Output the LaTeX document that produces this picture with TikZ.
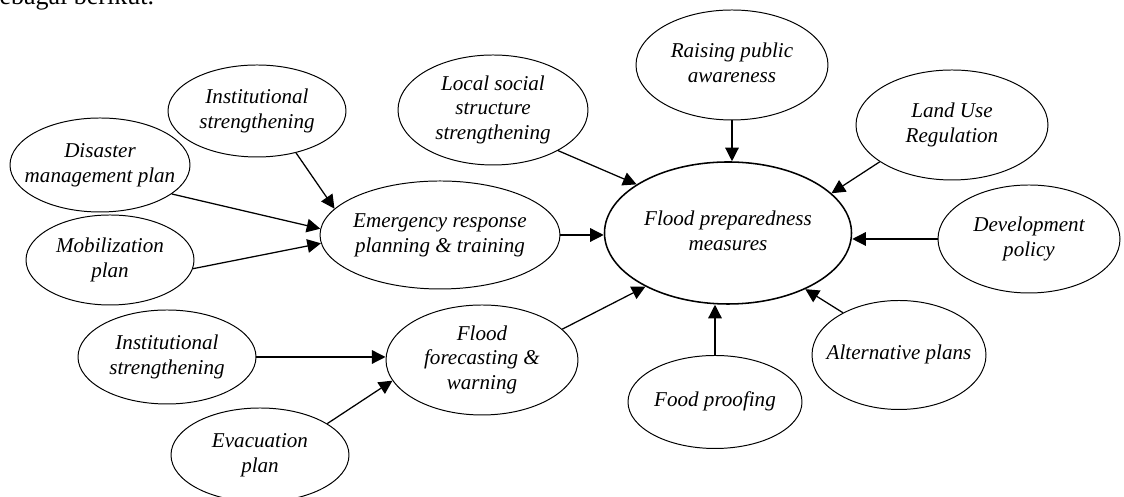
\documentclass[tikz,border=0pt]{standalone}
\usepackage{fontspec}
\setmainfont{Liberation Serif}
\usetikzlibrary{arrows.meta, shapes.geometric}

% text that does not widen its ellipse
\newcommand{\bubbletext}[1]{\makebox[0pt]{\begin{tabular}{@{}c@{}}#1\end{tabular}}}

\begin{document}
\begin{tikzpicture}[>={Triangle[length=0.34cm, width=0.34cm]}, line width=0.9pt,
    bubble/.style={ellipse, draw, line width=0.7pt, inner sep=0pt,
        font=\fontsize{15}{17.7}\selectfont\itshape},
    core/.style={bubble, line width=1.1pt}]
    \useasboundingbox (0, 0) rectangle (28.1, 12.425);

    % Running text above the figure
    \node[anchor=base west, inner sep=0pt, font=\fontsize{18.5}{22}\selectfont] (caption) at (-0.28, 12.31) {sebagai berikut.};

    % Centre
    \node[core, minimum width=6.175cm, minimum height=3.55cm] (prep) at (18.2, 6.6) {\bubbletext{Flood preparedness\\measures}};

    % Left branch
    \node[bubble, minimum width=6cm, minimum height=2.7cm] (emerg) at (11.0, 6.55) {\bubbletext{Emergency response\\planning \& training}};
    \node[bubble, minimum width=4.45cm, minimum height=2.3cm] (inst1) at (6.425, 9.65) {\bubbletext{Institutional\\strengthening}};
    \node[bubble, minimum width=4.5cm, minimum height=2.35cm] (disaster) at (2.5, 8.3) {\bubbletext{Disaster\\management plan}};
    \node[bubble, minimum width=4.2cm, minimum height=2.25cm] (mobil) at (2.75, 5.925) {\bubbletext{Mobilization\\plan}};

    \node[bubble, minimum width=4.8cm, minimum height=2.75cm] (forecast) at (12.05, 3.425) {\bubbletext{Flood\\forecasting \&\\warning}};
    \node[bubble, minimum width=4.45cm, minimum height=2.35cm] (inst2) at (4.175, 3.5) {\bubbletext{Institutional\\strengthening}};
    \node[bubble, minimum width=4.45cm, minimum height=2.35cm] (evac) at (6.5, 1.05) {\bubbletext{Evacuation\\plan}};

    % Other measures
    \node[bubble, minimum width=4.75cm, minimum height=2.75cm] (local) at (12.325, 9.675) {\bubbletext{Local social\\structure\\strengthening}};
    \node[bubble, minimum width=4.8cm, minimum height=2.75cm] (raising) at (18.3, 10.8) {\bubbletext{Raising public\\awareness}};
    \node[bubble, minimum width=4.8cm, minimum height=2.75cm] (land) at (23.8, 9.3) {\bubbletext{Land Use\\Regulation}};
    \node[bubble, minimum width=4.55cm, minimum height=2.7cm] (devel) at (25.725, 6.45) {\bubbletext{Development\\policy}};
    \node[bubble, minimum width=4.35cm, minimum height=2.725cm] (alt) at (22.475, 3.55) {\bubbletext{Alternative plans}};
    \node[bubble, minimum width=4.35cm, minimum height=2.325cm] (food) at (17.875, 2.375) {\bubbletext{Food proofing}};

    % Arrows into emergency response
    \draw[->] (inst1.-47) -- (emerg.166.6);
    \draw[->] (disaster.-22.6) -- (emerg.177.6);
    \draw[->] (mobil.-6.8) -- (emerg.184.8);

    % Arrows into forecasting
    \draw[->] (inst2.east) -- (inst2.east -| forecast.west);
    \draw[->] (evac.25.5) -- (forecast.193.2);

    % Arrows into the centre
    \draw[->] (emerg.east) -- (emerg.east -| prep.west);
    \draw[->] (forecast.21.7) -- (prep.213.8);
    \draw[->] (local.-32.7) -- (prep.152.5);
    \draw[->] (raising.south) -- (raising.south |- prep.north);
    \draw[->] (land.207.8) -- (prep.21.9);
    \draw[->] (devel.west) -- (devel.west -| prep.east);
    \draw[->] (alt.143) -- (prep.-36.7);
    \draw[->] (food.north) -- (food.north |- prep.south);
\end{tikzpicture}
\end{document}
